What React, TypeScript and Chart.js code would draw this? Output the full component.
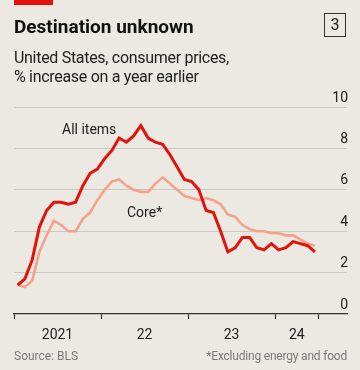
import React, { useEffect, useRef } from "react";
import { Chart, registerables } from "chart.js";

Chart.register(...registerables);

// Monthly, Jan 2021 – Jun 2024, % change on a year earlier
const allItems = [
  1.4, 1.7, 2.6, 4.2, 5.0, 5.4, 5.4, 5.3, 5.4, 6.2, 6.8, 7.0,
  7.5, 7.9, 8.5, 8.3, 8.6, 9.1, 8.5, 8.3, 8.2, 7.7, 7.1, 6.5,
  6.4, 6.0, 5.0, 4.9, 4.0, 3.0, 3.2, 3.7, 3.7, 3.2, 3.1, 3.4,
  3.1, 3.2, 3.5, 3.4, 3.3, 3.0,
];
const core = [
  1.4, 1.3, 1.6, 3.0, 3.8, 4.5, 4.3, 4.0, 4.0, 4.6, 4.9, 5.5,
  6.0, 6.4, 6.5, 6.2, 6.0, 5.9, 5.9, 6.3, 6.6, 6.3, 6.0, 5.7,
  5.6, 5.5, 5.6, 5.5, 5.3, 4.8, 4.7, 4.3, 4.1, 4.0, 4.0, 3.9,
  3.9, 3.8, 3.8, 3.6, 3.4, 3.3,
];
// x-axis: months since Jan 2021
const boundaryTicks = [0, 12, 24, 36, 42];
const yearLabelPos = [6, 18, 30, 39];
const yearLabels = ["2021", "22", "23", "24"];
const yTicks = [0, 2, 4, 6, 8, 10];
const xMax = 45.93;

const BG = "#ebe9e2";
const RED = "#e3120b";
const CORE = "#f4a28c";

export default function App() {
  const ref = useRef<HTMLCanvasElement | null>(null);

  useEffect(() => {
    if (!ref.current) return;
    const toPts = (arr: number[]) => arr.map((v, i) => ({ x: i + 0.5, y: v }));
    const allTicks = [...boundaryTicks, ...yearLabelPos].sort((a, b) => a - b);
    const chart = new Chart(ref.current, {
      type: "line",
      data: {
        datasets: [
          {
            label: "All items",
            data: toPts(allItems),
            borderColor: RED,
            borderWidth: 3,
            pointRadius: 0,
            tension: 0,
            order: 0,
          },
          {
            label: "Core*",
            data: toPts(core),
            borderColor: CORE,
            borderWidth: 2.6,
            pointRadius: 0,
            tension: 0,
            order: 1,
          },
        ],
      },
      options: {
        animation: false,
        responsive: false,
        events: [],
        layout: { padding: { left: 14, right: 13, top: 107, bottom: 26 } },
        plugins: { legend: { display: false }, tooltip: { enabled: false } },
        scales: {
          x: {
            type: "linear",
            min: 0,
            max: xMax,
            afterBuildTicks: (scale: any) => {
              scale.ticks = allTicks.map((v) => ({ value: v }));
            },
            afterFit: (scale: any) => {
              scale.height = 30;
            },
            grid: {
              drawOnChartArea: false,
              drawTicks: true,
              tickLength: 5,
              tickWidth: 1.2,
              tickColor: (ctx: any) =>
                ctx.tick && boundaryTicks.includes(ctx.tick.value) ? "#333" : "rgba(0,0,0,0)",
            },
            border: { display: true, color: "#333", width: 1.2 },
            ticks: {
              autoSkip: false,
              maxRotation: 0,
              padding: 8,
              color: "#222",
              font: { family: "Roboto", size: 14 },
              callback: (value: any) => {
                const k = yearLabelPos.indexOf(Number(value));
                return k >= 0 ? yearLabels[k] : "";
              },
            },
          },
          y: {
            position: "right",
            min: 0,
            max: 10,
            afterBuildTicks: (scale: any) => {
              scale.ticks = yTicks.map((v) => ({ value: v }));
            },
            afterFit: (scale: any) => {
              scale.width = 0;
            },
            grid: {
              drawTicks: false,
              color: (ctx: any) => (ctx.tick && ctx.tick.value === 0 ? "rgba(0,0,0,0)" : "#c9c8c1"),
              lineWidth: 1,
            },
            border: { display: false },
            ticks: {
              mirror: true,
              padding: 1,
              labelOffset: -9,
              color: "#222",
              font: { family: "Roboto", size: 14 },
            },
          },
        },
      },
    });
    return () => chart.destroy();
  }, []);

  const txt = (style: React.CSSProperties): React.CSSProperties => ({
    position: "absolute",
    fontFamily: "Roboto, sans-serif",
    whiteSpace: "nowrap",
    margin: 0,
    ...style,
  });

  return (
    <div
      style={{
        position: "fixed",
        left: 0,
        top: 0,
        width: 360,
        height: 370,
        background: BG,
        overflow: "hidden",
      }}
    >
      <canvas ref={ref} width={360} height={370} style={{ position: "absolute", left: 0, top: 0 }} />
      <div style={{ position: "absolute", left: 14, top: 0, width: 39, height: 5, background: RED }} />
      <div
        style={txt({ left: 14, top: 15.5, fontSize: 19, lineHeight: "22px", fontWeight: 700, color: "#111" })}
      >
        Destination unknown
      </div>
      <div
        style={{
          position: "absolute",
          left: 324,
          top: 13,
          width: 22,
          height: 24,
          boxSizing: "border-box",
          border: "1.5px solid #333",
          fontFamily: "Roboto, sans-serif",
          fontSize: 16,
          lineHeight: "21px",
          textAlign: "center",
          color: "#222",
        }}
      >
        3
      </div>
      <div style={txt({ left: 14, top: 48, fontSize: 16, lineHeight: "19px", color: "#222", letterSpacing: -0.3 })}>
        United States, consumer prices,
      </div>
      <div style={txt({ left: 14, top: 67, fontSize: 16, lineHeight: "19px", color: "#222", letterSpacing: -0.3 })}>
        % increase on a year earlier
      </div>
      <div style={txt({ left: 62, top: 121, fontSize: 14, lineHeight: "16px", color: "#222" })}>All items</div>
      <div style={txt({ left: 127, top: 204, fontSize: 14, lineHeight: "16px", color: "#222" })}>Core*</div>
      <div style={txt({ left: 14, top: 348.5, fontSize: 12, lineHeight: "14px", color: "#7a7a7a" })}>
        Source: BLS
      </div>
      <div
        style={txt({
          right: 13,
          top: 348.5,
          fontSize: 12,
          lineHeight: "14px",
          color: "#7a7a7a",
          letterSpacing: -0.2,
        })}
      >
        *Excluding energy and food
      </div>
    </div>
  );
}
